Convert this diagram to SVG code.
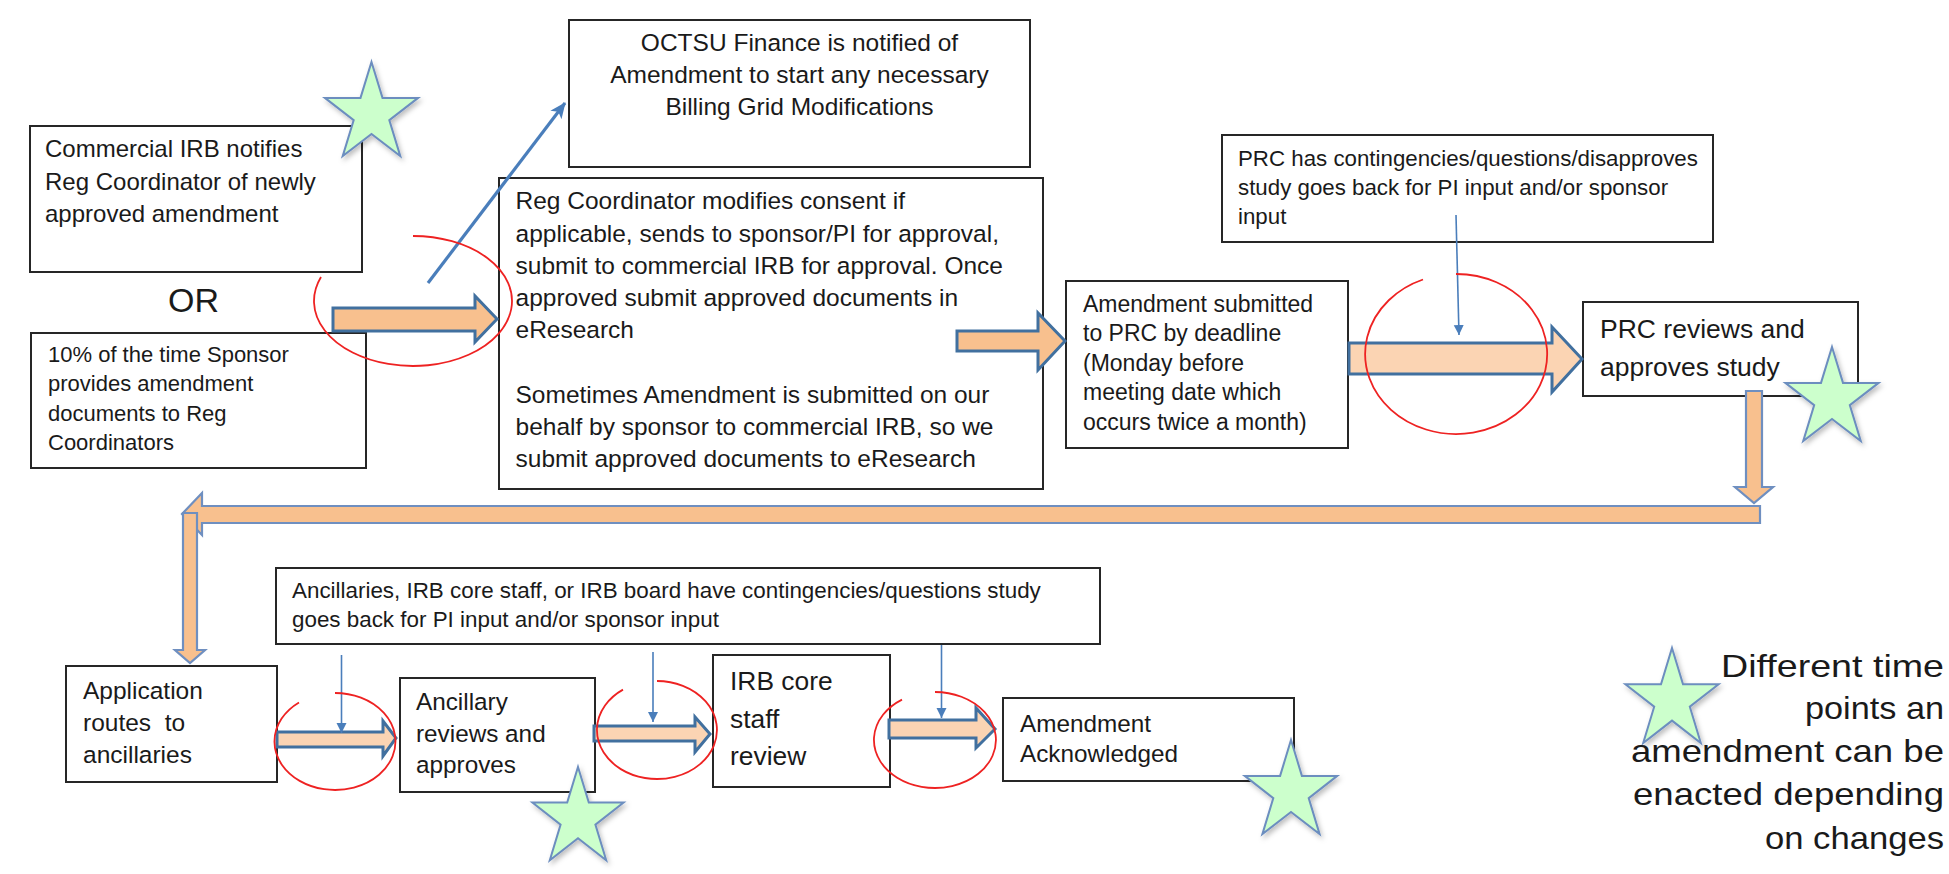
<svg xmlns="http://www.w3.org/2000/svg" width="1949" height="874" viewBox="0 0 1949 874">
<style>
.box{fill:#ffffff;stroke:#262626;stroke-width:2}
.t{font-family:"Liberation Sans",Arial,sans-serif;fill:#1a1a1a}
.fat{fill:#f8c08e;stroke:#41709f;stroke-width:3;stroke-linejoin:miter}
.pale{fill:#fbd4b3}
.long{fill:#f8c08e;stroke:#6f8fc0;stroke-width:2.2;stroke-linejoin:miter}
.ring{fill:none;stroke:#ee2222;stroke-width:1.8}
.thin{fill:none;stroke:#4a7ebb;stroke-width:1.6;marker-end:url(#ah)}
.diag{fill:none;stroke:#4a7ebb;stroke-width:3.2;marker-end:url(#ah2)}
.star{fill:#ccffcc;stroke:#6c8ebf;stroke-width:2;filter:url(#sh)}
</style>
<defs>
<marker id="ah" markerUnits="userSpaceOnUse" viewBox="0 0 12 12" markerWidth="10" markerHeight="12" refX="12" refY="6" orient="auto">
<path d="M0,0 L12,6 L0,12 Z" fill="#4a7ebb"/>
</marker>
<marker id="ah2" markerUnits="userSpaceOnUse" viewBox="0 0 16 14" markerWidth="16" markerHeight="14" refX="15" refY="7" orient="auto">
<path d="M0,0 L16,7 L0,14 L4,7 Z" fill="#4a7ebb"/>
</marker>
<filter id="sh" x="-20%" y="-20%" width="150%" height="150%">
<feDropShadow dx="2" dy="3" stdDeviation="2.5" flood-color="#000000" flood-opacity="0.25"/>
</filter>
</defs>

<g id="box-commercial-irb">
<rect class="box" x="30" y="126" width="332" height="146"/>
<text class="t" font-size="24"><tspan x="45" y="157">Commercial IRB notifies</tspan><tspan x="45" y="190">Reg Coordinator of newly</tspan><tspan x="45" y="222">approved amendment</tspan></text>
</g>

<g id="or-label">
<text class="t" x="193.5" y="312" font-size="34" text-anchor="middle">OR</text>
</g>

<g id="box-sponsor">
<rect class="box" x="31" y="333" width="335" height="135"/>
<text class="t" font-size="22"><tspan x="48" y="362">10% of the time Sponsor</tspan><tspan x="48" y="391">provides amendment</tspan><tspan x="48" y="421">documents to Reg</tspan><tspan x="48" y="450">Coordinators</tspan></text>
</g>

<g id="box-octsu">
<rect class="box" x="569" y="20" width="461" height="147"/>
<text class="t" font-size="24.5" text-anchor="middle"><tspan x="799.5" y="51">OCTSU Finance is notified of</tspan><tspan x="799.5" y="83">Amendment to start any necessary</tspan><tspan x="799.5" y="115">Billing Grid Modifications</tspan></text>
</g>

<g id="box-reg-coordinator">
<rect class="box" x="499" y="178" width="544" height="311"/>
<text class="t" font-size="24.5"><tspan x="515.5" y="209">Reg Coordinator modifies consent if</tspan><tspan x="515.5" y="241.5">applicable, sends to sponsor/PI for approval,</tspan><tspan x="515.5" y="274">submit to commercial IRB for approval. Once</tspan><tspan x="515.5" y="306">approved submit approved documents in</tspan><tspan x="515.5" y="338">eResearch</tspan><tspan x="515.5" y="403">Sometimes Amendment is submitted on our</tspan><tspan x="515.5" y="435">behalf by sponsor to commercial IRB, so we</tspan><tspan x="515.5" y="467">submit approved documents to eResearch</tspan></text>
</g>

<g id="box-prc-contingencies">
<rect class="box" x="1222" y="135" width="491" height="107"/>
<text class="t" font-size="22.3"><tspan x="1238" y="166">PRC has contingencies/questions/disapproves</tspan><tspan x="1238" y="195">study goes back for PI input and/or sponsor</tspan><tspan x="1238" y="224">input</tspan></text>
</g>

<g id="box-amendment-submitted">
<rect class="box" x="1066" y="281" width="282" height="167"/>
<text class="t" font-size="23"><tspan x="1083" y="312">Amendment submitted</tspan><tspan x="1083" y="341">to PRC by deadline</tspan><tspan x="1083" y="371">(Monday before</tspan><tspan x="1083" y="400">meeting date which</tspan><tspan x="1083" y="430">occurs twice a month)</tspan></text>
</g>

<g id="box-prc-reviews">
<rect class="box" x="1583" y="302" width="275" height="94"/>
<text class="t" font-size="26.5"><tspan x="1600" y="338">PRC reviews and</tspan><tspan x="1600" y="376">approves study</tspan></text>
</g>

<g id="box-application">
<rect class="box" x="66" y="666" width="211" height="116"/>
<text class="t" font-size="24.5" xml:space="preserve"><tspan x="83" y="699">Application</tspan><tspan x="83" y="731">routes  to</tspan><tspan x="83" y="763">ancillaries</tspan></text>
</g>

<g id="box-ancillaries-contingencies">
<rect class="box" x="276" y="568" width="824" height="76"/>
<text class="t" font-size="22.4"><tspan x="292" y="598">Ancillaries, IRB core staff, or IRB board have contingencies/questions study</tspan><tspan x="292" y="627">goes back for PI input and/or sponsor input</tspan></text>
</g>

<g id="box-ancillary-reviews">
<rect class="box" x="400" y="678" width="195" height="114"/>
<text class="t" font-size="24.3"><tspan x="416" y="710">Ancillary</tspan><tspan x="416" y="742">reviews and</tspan><tspan x="416" y="773">approves</tspan></text>
</g>

<g id="box-irb-core">
<rect class="box" x="713" y="655" width="177" height="132"/>
<text class="t" font-size="26.4"><tspan x="730" y="690">IRB core</tspan><tspan x="730" y="728">staff</tspan><tspan x="730" y="765">review</tspan></text>
</g>

<g id="box-amendment-ack">
<rect class="box" x="1003" y="698" width="291" height="83"/>
<text class="t" font-size="24.3"><tspan x="1020" y="732">Amendment</tspan><tspan x="1020" y="762">Acknowledged</tspan></text>
</g>

<g id="connectors">
<polygon class="fat" points="333,308 475,308 475,296 497,319 475,342 475,331 333,331"/>
<polygon class="fat" points="957,331 1038,331 1038,313 1065,341 1038,370 1038,351 957,351"/>
<polygon class="fat pale" points="1349,343 1552,343 1552,327 1582,359 1552,392 1552,374 1349,374"/>
<polygon class="long" points="1746,391 1762,391 1762,487 1773,487 1754,503 1735,487 1746,487"/>
<polygon class="long" points="1760,506 1760,523 202,523 202,535 182,514 202,493 202,506"/>
<polygon class="long" points="183,513 197,513 197,650 205,650 190,663 175,650 183,650"/>
<polygon class="fat pale" points="277,732 383,732 383,721 396,738 383,756 383,747 277,747"/>
<polygon class="fat pale" points="594,726 695,726 695,717 710,734 695,752 695,741 594,741"/>
<polygon class="fat pale" points="889,720 976,720 976,708 995,729 976,748 976,738 889,738"/>
<path class="diag" d="M428,283 L565,103"/>
<path class="thin" d="M1456,215 L1459,335"/>
<path class="thin" d="M341.5,655 L341.5,733"/>
<path class="thin" d="M653,652 L653,722"/>
<path class="thin" d="M941.5,645 L941.5,718"/>
<path class="ring" d="M413,236 A99,65 0 1 1 321,277"/>
<path class="ring" d="M1456,274 A91,80 0 1 1 1423,279.5"/>
<path class="ring" d="M335,693 A60.5,48.5 0 1 1 299,702.5"/>
<path class="ring" d="M657,681 A60,49 0 1 1 623,689.6"/>
<path class="ring" d="M935,692 A61,48 0 1 1 902,699.6"/>
</g>

<g id="stars">
<polygon class="star" points="371.5,62 382.5,97.9 418.1,97.9 389.3,120.1 400.3,156.1 371.5,133.9 342.7,156.1 353.7,120.1 324.9,97.9 360.5,97.9"/>
<polygon class="star" points="1832,347 1843,382.9 1878.6,382.9 1849.8,405.1 1860.8,441.1 1832,418.9 1803.2,441.1 1814.2,405.1 1785.4,382.9 1821,382.9"/>
<polygon class="star" points="578,767 588.8,802.6 623.6,802.6 595.4,824.6 606.2,860.2 578,838.2 549.8,860.2 560.6,824.6 532.4,802.6 567.2,802.6"/>
<polygon class="star" points="1291,740 1301.9,775.9 1337.2,775.9 1308.7,798.1 1319.6,834.1 1291,811.9 1262.4,834.1 1273.3,798.1 1244.8,775.9 1280.1,775.9"/>
</g>

<g id="legend">
<polygon class="star" points="1672,648 1683,684.3 1718.6,684.3 1689.8,706.7 1700.8,743 1672,720.6 1643.2,743 1654.2,706.7 1625.4,684.3 1661,684.3"/>
<text class="t" font-size="32" text-anchor="end"><tspan x="1944" y="677" textLength="223" lengthAdjust="spacingAndGlyphs">Different time</tspan><tspan x="1944" y="719" textLength="139" lengthAdjust="spacingAndGlyphs">points an</tspan><tspan x="1944" y="762" textLength="313" lengthAdjust="spacingAndGlyphs">amendment can be</tspan><tspan x="1944" y="805" textLength="311" lengthAdjust="spacingAndGlyphs">enacted depending</tspan><tspan x="1944" y="849" textLength="179" lengthAdjust="spacingAndGlyphs">on changes</tspan></text>
</g>
</svg>
